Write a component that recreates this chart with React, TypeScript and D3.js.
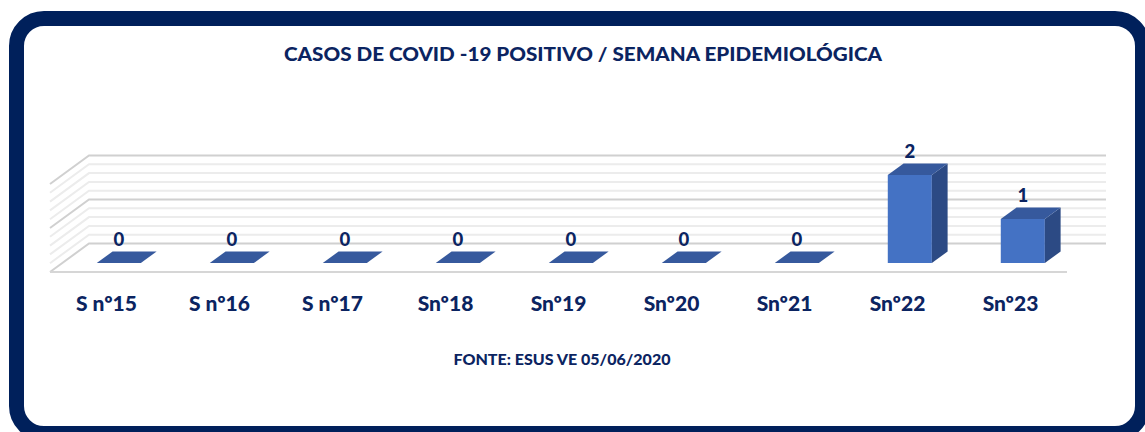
import React from "react";
import * as d3 from "d3";

const title = "CASOS DE COVID -19 POSITIVO / SEMANA EPIDEMIOLÓGICA";
const source = "FONTE: ESUS VE 05/06/2020";
const categories = ["S nº15", "S nº16", "S nº17", "Snº18", "Snº19", "Snº20", "Snº21", "Snº22", "Snº23"];
const values = [0, 0, 0, 0, 0, 0, 0, 2, 1];
const gridTicks = d3.range(0, 2.0001, 0.2);
const majorTicks = [0, 1, 2];

const W = 1145;
const H = 432;
const navy = "#0b2461";
const FONT = "Lato, 'Open Sans', sans-serif";

// oblique projection parameters
const floorLeft = 50;
const floorRight = 1067;
const floorY = 272;
const depthDX = 39;
const depthDY = 28.5;
const barFront = 0.316;
const barBack = 0.72;
const barWidthFrac = 0.39;

export default function App() {
  const x = d3.scaleBand<string>().domain(categories).range([floorLeft, floorRight]).padding(0);
  const y = d3.scaleLinear().domain([0, 2]).range([floorY, floorY - 88]);
  const px = (xx: number, d: number) => xx + d * depthDX;
  const py = (v: number, d: number) => y(v) - d * depthDY;
  const bw = x.bandwidth() * barWidthFrac;
  const line = d3.line();

  return (
    <svg width={W} height={H} style={{ position: "absolute", left: 0, top: 0, display: "block" }}>
      <rect x={0} y={0} width={W} height={H} fill="#fff" />
      <rect x={16.5} y={18.5} width={1126} height={415} rx={27.5} ry={27.5} fill="#fff" stroke="#00205b" strokeWidth={15} />
      <text x={583} y={61} textAnchor="middle" fontFamily={FONT} fontWeight={900} fontSize={19.5} fill={navy} textLength={598} lengthAdjust="spacingAndGlyphs">
        {title}
      </text>
      {/* back wall + side wall gridlines */}
      {gridTicks.map((t, i) => {
        const major = majorTicks.some((m) => Math.abs(m - t) < 1e-6);
        const stroke = major ? "#d0d0d0" : "#ececec";
        const backY = py(t, 1);
        return (
          <g key={i}>
            <path d={line([[px(floorLeft, 0), py(t, 0)], [px(floorLeft, 1), backY], [px(floorRight, 1), backY]]) || ""} fill="none" stroke={stroke} strokeWidth={2} />
          </g>
        );
      })}
      {/* floor front edge */}
      <line x1={floorLeft} x2={floorRight} y1={floorY} y2={floorY} stroke="#d6d6d6" strokeWidth={2} />
      {/* bars */}
      {categories.map((c, i) => {
        const v = values[i];
        const cx = (x(c) as number) + x.bandwidth() / 2;
        const x0 = px(cx - bw / 2, barFront);
        const x1 = px(cx + bw / 2, barFront);
        const bx0 = px(cx - bw / 2, barBack);
        const bx1 = px(cx + bw / 2, barBack);
        const yb = py(0, barFront);
        const yt = py(v, barFront);
        const ytb = py(v, barBack);
        const ybb = py(0, barBack);
        return (
          <g key={c}>
            {v > 0 && <path d={line([[x0, yb], [x1, yb], [x1, yt], [x0, yt]]) + "Z"} fill="#4472c4" />}
            {v > 0 && <path d={line([[x1, yb], [bx1, ybb], [bx1, ytb], [x1, yt]]) + "Z"} fill="#2c4a84" />}
            <path d={line([[x0, yt], [x1, yt], [bx1, ytb], [bx0, ytb]]) + "Z"} fill="#36599d" />
            <text x={(x0 + x1) / 2} y={ytb - 5} textAnchor="middle" fontFamily={FONT} fontWeight={900} fontSize={18.5} fill={navy}>
              {v}
            </text>
            <text x={cx} y={311} textAnchor="middle" fontFamily={FONT} fontWeight={900} fontSize={21} fill={navy}>
              {c}
            </text>
          </g>
        );
      })}
      <text x={562} y={365} textAnchor="middle" fontFamily={FONT} fontWeight={900} fontSize={15} fill={navy} textLength={217} lengthAdjust="spacingAndGlyphs">
        {source}
      </text>
    </svg>
  );
}
